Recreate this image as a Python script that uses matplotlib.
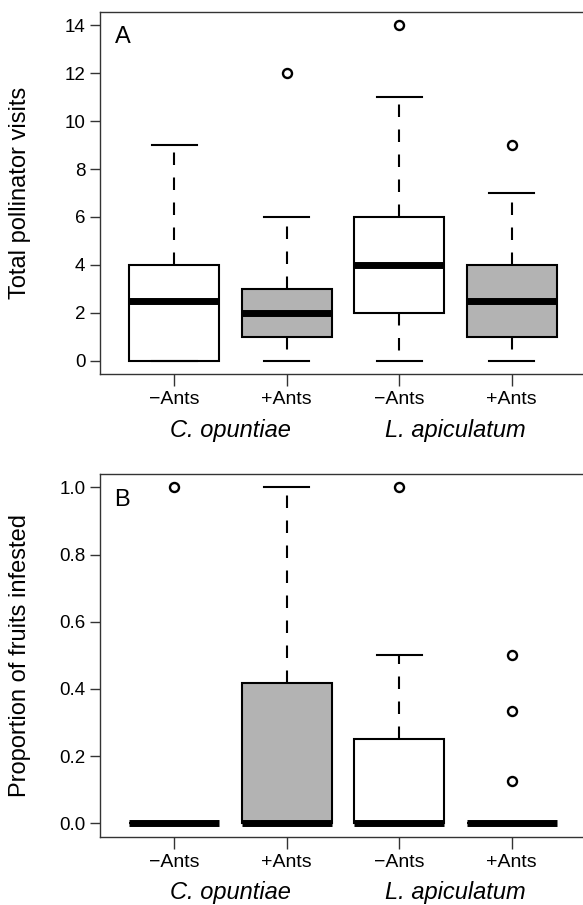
import matplotlib
matplotlib.use("Agg")
import matplotlib.pyplot as plt
import matplotlib.transforms as mtransforms

plt.rcParams['font.family'] = ['Liberation Sans', 'DejaVu Sans']

groups = ['\u2212Ants', '+Ants', '\u2212Ants', '+Ants']
species = ['C. opuntiae', 'L. apiculatum']
fills = ['white', '#b3b3b3', 'white', '#b3b3b3']

# panel A: total pollinator visits
a_whislo = [0, 0, 0, 0]
a_q1 = [0, 1, 2, 1]
a_med = [2.5, 2, 4, 2.5]
a_q3 = [4, 3, 6, 4]
a_whishi = [9, 6, 11, 7]
a_fliers = [[], [12], [14], [9]]

# panel B: proportion of fruits infested
b_whislo = [0, 0, 0, 0]
b_q1 = [0, 0, 0, 0]
b_med = [0, 0, 0, 0]
b_q3 = [0, 0.417, 0.25, 0]
b_whishi = [0, 1.0, 0.5, 0]
b_fliers = [[1.0], [], [1.0], [0.5, 0.333, 0.125]]


def make_stats(lo, q1, med, q3, hi, fl):
    return [dict(whislo=lo[i], q1=q1[i], med=med[i], q3=q3[i], whishi=hi[i],
                 fliers=fl[i]) for i in range(len(lo))]


def draw_panel(ax, stats, yticks, ylabels, ylim, ylab, letter):
    pos = [1, 2, 3, 4]
    bp = ax.bxp(stats, positions=pos, widths=0.8, capwidths=0.4,
                patch_artist=True, showfliers=True,
                boxprops=dict(linewidth=1.5, edgecolor='black'),
                whiskerprops=dict(linestyle=(0, (6, 6)), linewidth=1.5, color='black'),
                capprops=dict(linewidth=1.5, color='black'),
                medianprops=dict(color='black', linewidth=5, solid_capstyle='butt'),
                flierprops=dict(marker='o', markerfacecolor='none',
                                markeredgecolor='black', markersize=6.5,
                                markeredgewidth=1.7))
    for patch, c in zip(bp['boxes'], fills):
        patch.set_facecolor(c)
    ax.set_xlim(0.34, 4.66)
    ax.set_ylim(*ylim)
    ax.set_xticks(pos)
    ax.set_xticklabels(groups, fontsize=14)
    ax.set_yticks(yticks)
    ax.set_yticklabels(ylabels, fontsize=13.5)
    ax.tick_params(axis='x', length=8.6, width=1, color='#333333', pad=3.5)
    ax.tick_params(axis='y', length=7.5, width=1, color='#333333', pad=3)
    for s in ax.spines.values():
        s.set_linewidth(1)
        s.set_color('#333333')
    ax.set_ylabel(ylab, fontsize=17)
    # same label column in both panels
    ax.yaxis.set_label_coords(-0.142, 0.5)
    ax.text(0.03, 0.96, letter, transform=ax.transAxes, fontsize=17,
            ha='left', va='top')
    trans = mtransforms.blended_transform_factory(ax.transData, ax.transAxes)
    ax.text(1.5, -0.155, species[0], transform=trans, fontsize=17,
            style='italic', ha='center', va='center')
    ax.text(3.5, -0.155, species[1], transform=trans, fontsize=17,
            style='italic', ha='center', va='center')


fig = plt.figure(figsize=(5.83, 9.05), dpi=100)
W, H = 583.0, 905.0
ax1 = fig.add_axes([100 / W, (H - 374) / H, 486 / W, 362 / H])
ax2 = fig.add_axes([100 / W, (H - 836.7) / H, 486 / W, 362.7 / H])

draw_panel(ax1, make_stats(a_whislo, a_q1, a_med, a_q3, a_whishi, a_fliers),
           list(range(0, 15, 2)), [str(v) for v in range(0, 15, 2)],
           (-0.56, 14.56), 'Total pollinator visits', 'A')
draw_panel(ax2, make_stats(b_whislo, b_q1, b_med, b_q3, b_whishi, b_fliers),
           [0, 0.2, 0.4, 0.6, 0.8, 1.0], ['0.0', '0.2', '0.4', '0.6', '0.8', '1.0'],
           (-0.04, 1.04), 'Proportion of fruits infested', 'B')

fig.savefig('out.png', dpi=100)
